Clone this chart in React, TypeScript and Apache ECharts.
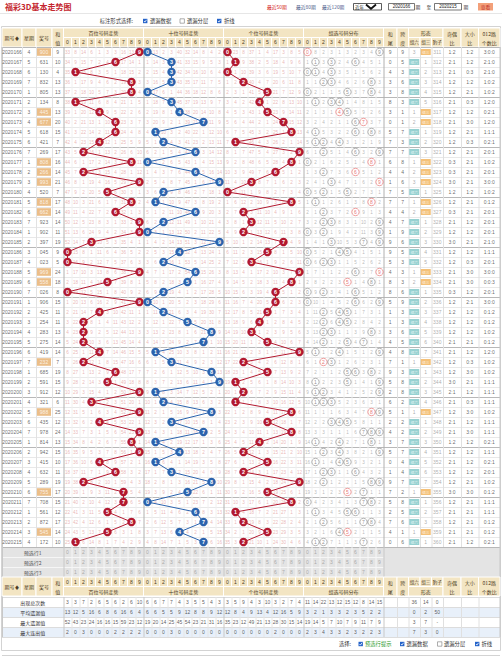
import React, { useEffect, useRef } from "react";
import * as echarts from "echarts";

const periods = ["2020166","2020167","2020168","2020169","2020170","2020171","2020172","2020173","2020174","2020175","2020176","2020177","2020178","2020179","2020180","2020181","2020182","2020183","2020184","2020185","2020186","2020187","2020188","2020189","2020190","2020191","2020192","2020193","2020194","2020195","2020196","2020197","2020198","2020199","2020200","2020201","2020202","2020203","2020204","2020205","2020206","2020207","2020208","2020209","2020210","2020211","2020212","2020213","2020214","2020215"];
const weekdays = [4,5,6,7,1,2,3,4,5,6,7,1,2,3,4,5,6,7,1,2,3,4,5,6,7,1,2,3,4,5,6,7,1,2,3,4,5,6,7,1,2,3,4,5,6,7,1,2,3,4];
const draws = ["900","631","130","832","805","134","445","677","618","421","269","808","266","993","520","818","662","923","902","397","045","023","969","558","026","906","425","254","283","275","419","232","685","591","912","321","988","435","978","814","942","415","632","289","755","708","561","872","545","172"];

// miss values shown in the first row (2020166) for each digit 0-9
const missStartHundreds = [33, 8, 14, 6, 1, 3, 3, 16, 13, 0];
const missStartTens = [0, 13, 2, 3, 40, 32, 14, 8, 4, 2];
const missStartUnits = [0, 23, 8, 37, 1, 4, 17, 3, 8, 5];
const missStartGroup = [0, 8, 2, 3, 1, 3, 2, 3, 4, 0];
const shapeMissStart = [3, 0, 311];

const digitLabels = ["0","1","2","3","4","5","6","7","8","9"];
const groupTitles = ["百位号码走势","十位号码走势","个位号码走势","组选号码分布"];
const presetLabels = ["预选行1","预选行2","预选行3"];
const statLabels = ["出现总次数","平均遗漏值","最大遗漏值","最大连出值"];
const statHundreds = [[3,3,7,2,6,5,6,2,6,10],[13,12,5,16,6,8,6,16,6,4],[52,43,23,24,16,16,15,59,23,12],[2,0,3,0,0,0,2,2,2,2]];
const statTens = [[6,6,7,7,4,3,5,5,4,3],[6,6,5,5,9,12,8,8,9,12],[19,20,14,25,45,54,23,21,31,16],[0,0,0,3,0,0,0,0,0,0]];
const statUnits = [[3,5,9,4,3,10,3,2,7,4],[12,8,4,9,13,4,12,16,5,9],[35,23,12,49,21,13,28,30,15,14],[0,0,0,0,0,0,2,0,0,0]];
const statGroup = [[11,14,22,13,12,15,12,8,14,15],[3,2,1,3,3,2,3,5,2,2],[19,14,5,7,10,7,9,11,7,9],[2,3,4,3,3,2,3,2,2,3]];
const statShape = [["36","14","0"],["0","2","50"],["3","7","-"],["7","3","0"]];

const FONT = "'Liberation Sans','Noto Sans CJK SC','DejaVu Sans',sans-serif";
const CJK = "'Noto Sans CJK SC','Liberation Sans',sans-serif";
const W = 502;
const TOP = 47;
const RH = 10;
const GROUP_LEFT = [63.5, 143.5, 223.5, 303.5];
const CELL = 8;
const LC = { qh: [2, 22], xq: [22, 36], jh: [36, 52], hz: [52, 63.5] };
const RC = { hw: [383.5, 397], kd: [397, 408.5], z6: [408.5, 420], z3: [420, 431.5], bz: [431.5, 443], jo: [443, 461], dx: [461, 478.5], lu: [478.5, 500] };
const RED = "#b2182f";
const BLUE = "#2b63ad";
const HBG = "#f3e5c3";
const HTX = "#4b3a22";

const mid = (c: number[]) => (c[0] + c[1]) / 2;
const digitX = (g: number, d: number) => GROUP_LEFT[g] + (d + 0.5) * CELL;

function buildOption() {
  const rows = draws.map((s) => s.split("").map(Number));
  const N = rows.length;
  const isPair = rows.map((r) => new Set(r).size === 2);
  const yCats = [...periods, ...presetLabels, "h1", "h2", ...statLabels];
  const rowY = (k: number) => TOP + k * RH;

  const missOf = (hit: (r: number[], d: number) => boolean, start: number[]) => {
    const m: number[][] = [];
    rows.forEach((r, i) => {
      m.push(digitLabels.map((_, d) => (hit(r, d) ? -1 : i === 0 ? start[d] : m[i - 1][d] < 0 ? 1 : m[i - 1][d] + 1)));
    });
    return m;
  };
  const missH = missOf((r, d) => r[0] === d, missStartHundreds);
  const missT = missOf((r, d) => r[1] === d, missStartTens);
  const missU = missOf((r, d) => r[2] === d, missStartUnits);
  const missG = missOf((r, d) => r.includes(d), missStartGroup);

  // shape misses
  const shapeM: number[][] = [];
  rows.forEach((r, i) => {
    const hits = [!isPair[i], isPair[i], false];
    shapeM.push(hits.map((h, k) => (h ? -1 : i === 0 ? shapeMissStart[k] : shapeM[i - 1][k] < 0 ? 1 : shapeM[i - 1][k] + 1)));
  });

  // ---------- graphic (table frame) ----------
  const gfx: any[] = [];
  const rect = (x: number, y: number, w: number, h: number, fill: string, stroke = "none", lw = 1) =>
    gfx.push({ type: "rect", silent: true, shape: { x, y, width: w, height: h }, style: { fill, stroke, lineWidth: lw } });
  const line = (x1: number, y1: number, x2: number, y2: number, stroke: string, lw = 1) =>
    gfx.push({ type: "line", silent: true, shape: { x1, y1, x2, y2 }, style: { stroke, lineWidth: lw } });
  const text = (x: number, y: number, t: string, o: any = {}) =>
    gfx.push({
      type: "text", silent: true, x, y,
      style: {
        text: t, fill: o.fill || "#333", fontSize: o.size || 5, fontFamily: o.font || CJK,
        fontWeight: o.bold ? "bold" : "normal", align: o.align || "center", verticalAlign: "middle",
        textAlign: o.align || "center", textVerticalAlign: "middle", lineHeight: o.lh || undefined,
      },
    });
  const check = (x: number, y: number, on: boolean) => {
    if (on) {
      rect(x, y - 2.2, 4.4, 4.4, "#2563c9");
      gfx.push({ type: "polyline", silent: true, shape: { points: [[x + 1, y], [x + 1.9, y + 1.1], [x + 3.5, y - 1.2]] }, style: { stroke: "#fff", lineWidth: 0.8, fill: "none" } });
    } else rect(x, y - 2.2, 4.4, 4.4, "#fff", "#777", 0.6);
  };

  rect(1.5, 26.5, 499, 624, "#fff", "#d3d3d3");
  // title bar
  text(5, 6.5, "福彩3D基本走势图", { align: "left", size: 8, bold: true, fill: "#c4262e" });
  line(0, 13.5, W, 13.5, "#e6e6e6");
  text(267, 6.5, "最近50期", { align: "left", size: 4.8, fill: "#d42020" });
  text(296, 6.5, "最近80期", { align: "left", size: 4.8, fill: "#4a5a8a" });
  text(322, 6.5, "最近120期", { align: "left", size: 4.8, fill: "#4a5a8a" });
  rect(353.5, 3.5, 28, 6.5, "#fff", "#333", 0.8);
  text(355, 6.8, "近年", { align: "left", size: 4.5, fill: "#222" });
  gfx.push({ type: "polyline", silent: true, shape: { points: [[366, 4.5], [371, 8.8], [376, 4.5]] }, style: { stroke: "#111", lineWidth: 1.8, fill: "none" } });
  rect(388.5, 3.5, 26, 6.5, "#fff", "#555", 0.8);
  text(401.5, 6.8, "2020166", { size: 4.5, font: FONT, fill: "#222" });
  text(418, 6.8, "期", { size: 4.8, fill: "#333" });
  text(429, 6.8, "至", { size: 4.8, fill: "#333" });
  rect(434.5, 3.5, 27, 6.5, "#fff", "#555", 0.8);
  text(448, 6.8, "2020215", { size: 4.5, font: FONT, fill: "#222" });
  text(466, 6.8, "期", { size: 4.8, fill: "#333" });
  rect(478, 3, 15, 7.5, "#f3a07a");
  text(485.5, 6.8, "查看", { size: 4.8, fill: "#c0302a" });
  // option line
  text(133, 21, "标注形式选择:", { align: "right", size: 5.3, fill: "#333" });
  check(143, 21, true);
  text(150, 21, "遗漏数据", { align: "left", size: 5.3 });
  check(180, 21, false);
  text(187, 21, "遗漏分层", { align: "left", size: 5.3 });
  check(217, 21, true);
  text(224, 21, "折线", { align: "left", size: 5.3 });

  const headerBlock = (y0: number, rev: boolean) => {
    const tRow = rev ? y0 + 9.5 : y0;
    const dRow = rev ? y0 : y0 + 9.5;
    const cell = (c: number[], y: number, h: number) => rect(c[0], y, c[1] - c[0], h, HBG, "#fff", 1);
    ([[LC.qh, "期号♦"], [LC.xq, "星期"], [LC.jh, "奖号"]] as any[]).forEach(([c, t]) => {
      cell(c, y0, 19);
      text(mid(c), y0 + 9.5, t, { fill: HTX, size: 5 });
    });
    cell(LC.hz, y0, 19);
    text(mid(LC.hz), y0 + 9.8, "和\n值", { fill: HTX, size: 5, lh: 9 });
    GROUP_LEFT.forEach((gl, g) => {
      cell([gl, gl + 80], tRow, 9.5);
      text(gl + 40, tRow + 4.9, groupTitles[g], { fill: HTX, size: 5 });
      digitLabels.forEach((dl, d) => {
        cell([gl + d * CELL, gl + (d + 1) * CELL], dRow, 9.5);
        text(gl + (d + 0.5) * CELL, dRow + 4.9, dl, { fill: HTX, size: 5, font: FONT });
      });
    });
    cell(RC.hw, y0, 19); text(mid(RC.hw), y0 + 9.8, "和\n尾", { fill: HTX, size: 5, lh: 9 });
    cell(RC.kd, y0, 19); text(mid(RC.kd), y0 + 9.8, "跨\n度", { fill: HTX, size: 5, lh: 9 });
    cell([RC.z6[0], RC.bz[1]], tRow, 9.5); text(mid([RC.z6[0], RC.bz[1]]), tRow + 4.9, "形态", { fill: HTX, size: 5 });
    ([[RC.z6, "组六"], [RC.z3, "组三"], [RC.bz, "豹子"]] as any[]).forEach(([c, t]) => {
      cell(c, dRow, 9.5);
      text(mid(c), dRow + 4.9, t, { fill: HTX, size: 4.6 });
    });
    cell(RC.jo, y0, 19); text(mid(RC.jo), y0 + 9.8, "奇偶\n比", { fill: HTX, size: 5, lh: 9 });
    cell(RC.dx, y0, 19); text(mid(RC.dx), y0 + 9.8, "大小\n比", { fill: HTX, size: 5, lh: 9 });
    cell(RC.lu, y0, 19); text(mid(RC.lu), y0 + 9.8, "012路\n个数比", { fill: HTX, size: 5, lh: 9 });
  };
  headerBlock(28, false);

  // preset rows background
  rect(2, rowY(N), 498, 30, "#e4e4e4");
  // stats rows background
  const statTop = rowY(N + 5);
  statLabels.forEach((_, k) => rect(2, statTop + k * RH, 498, RH, k % 2 === 1 ? "#e8f0fa" : "#fff"));
  // horizontal lines
  for (let k = 0; k <= N; k++) line(2, rowY(k) + 0.5, 500, rowY(k) + 0.5, k % 5 === 0 ? "#b8b8b8" : "#e8e8e8");
  for (let k = 1; k < 3; k++) line(2, rowY(N + k) + 0.5, 383.5, rowY(N + k) + 0.5, "#f6f6f6");
  for (let k = 0; k <= 4; k++) line(2, statTop + k * RH + 0.5, 500, statTop + k * RH + 0.5, "#dcdcdc");
  // vertical lines
  const vert = (x: number, y1: number, y2: number, c: string) => line(x, y1, x, y2, c);
  const yDataEnd = rowY(N);
  [LC.qh[1], LC.xq[1], LC.jh[1]].forEach((x) => vert(x + 0.5, TOP, yDataEnd, "#e2e2e2"));
  GROUP_LEFT.forEach((gl) => {
    for (let d = 1; d < 10; d++) {
      vert(gl + d * CELL + 0.5, TOP, yDataEnd, "#f0f0f0");
      vert(gl + d * CELL + 0.5, rowY(N), rowY(N + 3), "#f7f7f7");
      vert(gl + d * CELL + 0.5, statTop, statTop + 40, "#e6e6e6");
    }
  });
  [LC.hz[1], ...GROUP_LEFT.slice(1), 383.5].forEach((x) => {
    vert(x + 0.5, TOP, yDataEnd, "#b0b0b0");
    vert(x + 0.5, rowY(N), rowY(N + 3), "#c8c8c8");
    vert(x + 0.5, statTop, statTop + 40, "#c8c8c8");
  });
  [RC.hw[1], RC.kd[1], RC.z6[1], RC.z3[1], RC.bz[1], RC.jo[1], RC.dx[1]].forEach((x) => {
    vert(x + 0.5, TOP, yDataEnd, "#e0e0e0");
    vert(x + 0.5, statTop, statTop + 40, "#e0e0e0");
  });
  vert(2.5, TOP, statTop + 40, "#c8c8c8");
  vert(500, TOP, statTop + 40, "#c8c8c8");

  presetLabels.forEach((t, k) => text(mid([2, 63.5]), rowY(N + k) + 5, t, { size: 5, fill: "#555" }));
  headerBlock(rowY(N + 3), true);
  statLabels.forEach((t, k) => text(mid([2, 63.5]), statTop + k * RH + 5, t, { size: 5, fill: "#333" }));

  // bottom option line
  line(2, 650.5, 500, 650.5, "#d3d3d3");
  line(2, 655.5, 500, 655.5, "#d3d3d3");
  text(351, 644, "选择:", { align: "right", size: 5.3 });
  check(358.5, 644, true);
  text(365, 644, "预选行提示", { align: "left", size: 5.3, fill: "#2a9a2a" });
  check(400, 644, true);
  text(406.5, 644, "遗漏数据", { align: "left", size: 5.3 });
  check(437.5, 644, false);
  text(444, 644, "遗漏分层", { align: "left", size: 5.3 });
  check(475, 644, true);
  text(481.5, 644, "折线", { align: "left", size: 5.3 });

  // ---------- series ----------
  const txtSeries = (id: string, items: any[], color: string, size: number, z = 4, extra: any = {}) => ({
    type: "scatter", id, silent: true, z, symbolSize: 1, progressive: 0,
    itemStyle: { color: "rgba(0,0,0,0)" },
    data: items,
    label: { show: true, position: "inside", formatter: (p: any) => p.data.name, color, fontSize: size, fontFamily: FONT, ...extra },
  });
  const it = (x: number, row: number, name: string, label?: any) => (label ? { value: [x, row], name, label } : { value: [x, row], name });

  const series: any[] = [];

  // 奖号 highlight boxes for 组三
  series.push({
    type: "scatter", id: "pairBox", silent: true, z: 3, symbol: "rect", symbolSize: [14, 7.6],
    itemStyle: { color: "#e6ae6a" },
    data: rows.map((_, i) => (isPair[i] ? { value: [mid(LC.jh), i] } : null)).filter(Boolean),
  });
  const info: any[] = [];
  rows.forEach((r, i) => {
    info.push(it(mid(LC.qh), i, periods[i]));
    info.push(it(mid(LC.xq), i, String(weekdays[i])));
    info.push(it(mid(LC.jh), i, draws[i], isPair[i] ? { color: "#fff" } : undefined));
    info.push(it(mid(LC.hz), i, String(r[0] + r[1] + r[2])));
  });
  series.push(txtSeries("info", info, "#444", 5));

  // miss numbers
  [missH, missT, missU].forEach((m, g) => {
    const items: any[] = [];
    m.forEach((rowM, i) => rowM.forEach((v, d) => { if (v >= 0) items.push(it(digitX(g, d), i, String(v))); }));
    series.push(txtSeries("miss" + g, items, "#e4a6a6", 4.6, 3));
  });
  const gItems: any[] = [];
  missG.forEach((rowM, i) => rowM.forEach((v, d) => { if (v >= 0) gItems.push(it(digitX(3, d), i, String(v))); }));
  series.push(txtSeries("missG", gItems, "#a8a8a8", 4.6, 3));

  // 组选 circles
  const gHits: any[] = [];
  rows.forEach((r, i) => {
    digitLabels.forEach((dl, d) => {
      const c = r.filter((x) => x === d).length;
      if (c > 0) {
        const col = c > 1 ? "#e05050" : "#777";
        gHits.push({ value: [digitX(3, d), i], name: dl, itemStyle: { borderColor: col }, label: { color: col } });
      }
    });
  });
  series.push({
    type: "scatter", id: "gHits", silent: true, z: 4, symbol: "circle", symbolSize: 7.4, progressive: 0,
    itemStyle: { color: "#fff", borderColor: "#777", borderWidth: 0.7 },
    label: { show: true, position: "inside", formatter: (p: any) => p.data.name, fontSize: 5, fontFamily: FONT, color: "#666" },
    data: gHits,
  });

  // trend lines
  [RED, BLUE, RED].forEach((color, g) => {
    series.push({
      type: "line", id: "trend" + g, silent: true, z: 6, showAllSymbol: true,
      symbol: "circle", symbolSize: 8.4,
      data: rows.map((r, i) => ({ value: [digitX(g, r[g]), i], name: String(r[g]) })),
      lineStyle: { color, width: 1 },
      itemStyle: { color, borderWidth: 0 },
      label: { show: true, position: "inside", formatter: (p: any) => p.data.name, color: "#fff", fontSize: 5.4, fontWeight: "bold", fontFamily: FONT },
    });
  });

  // right columns
  const right: any[] = [];
  const shapeBoxes: any[] = [];
  rows.forEach((r, i) => {
    const s = r[0] + r[1] + r[2];
    const odd = r.filter((x) => x % 2 === 1).length;
    const big = r.filter((x) => x >= 5).length;
    const c0 = r.filter((x) => x % 3 === 0).length;
    const c1 = r.filter((x) => x % 3 === 1).length;
    right.push(it(mid(RC.hw), i, String(s % 10)));
    right.push(it(mid(RC.kd), i, String(Math.max(...r) - Math.min(...r))));
    right.push(it(mid(RC.jo), i, `${odd}:${3 - odd}`));
    right.push(it(mid(RC.dx), i, `${big}:${3 - big}`));
    right.push(it(mid(RC.lu), i, `${c0}:${c1}:${3 - c0 - c1}`));
    const sm = shapeM[i];
    [RC.z6, RC.z3, RC.bz].forEach((c, k) => {
      if (sm[k] >= 0) right.push(it(mid(c), i, String(sm[k]), { color: "#999" }));
      else shapeBoxes.push({ value: [mid(c), i], name: k === 0 ? "组六" : "组三", itemStyle: { color: k === 0 ? "#7cc6c6" : "#f1b257" } });
    });
  });
  series.push(txtSeries("right", right, "#444", 5));
  series.push({
    type: "scatter", id: "shapeBox", silent: true, z: 4, symbol: "rect", symbolSize: [10, 6], progressive: 0,
    itemStyle: { color: "#7cc6c6" },
    label: { show: true, position: "inside", formatter: (p: any) => p.data.name, fontSize: 3.8, fontFamily: CJK, color: "#fff" },
    data: shapeBoxes,
  });

  // preset rows digits
  const preset: any[] = [];
  presetLabels.forEach((_, k) => {
    for (let g = 0; g < 4; g++) digitLabels.forEach((dl, d) => preset.push(it(digitX(g, d), N + k, dl)));
  });
  series.push(txtSeries("preset", preset, "#9a9a9a", 5));

  // stats rows
  const stats: any[] = [];
  statLabels.forEach((_, k) => {
    const row = N + 5 + k;
    [statHundreds, statTens, statUnits, statGroup].forEach((arr, g) => {
      arr[k].forEach((v, d) => stats.push(it(digitX(g, d), row, String(v))));
    });
    [RC.z6, RC.z3, RC.bz].forEach((c, j) => stats.push(it(mid(c), row, statShape[k][j])));
  });
  series.push(txtSeries("stats", stats, "#333", 5));

  return {
    animation: false,
    backgroundColor: "#fff",
    textStyle: { fontFamily: FONT },
    grid: { left: 0, top: TOP, width: W, height: yCats.length * RH, containLabel: false },
    xAxis: { type: "value", min: 0, max: W, show: false },
    yAxis: { type: "category", data: yCats, inverse: true, show: false, boundaryGap: true },
    graphic: { elements: gfx },
    series,
  };
}

export default function App() {
  const ref = useRef<HTMLDivElement | null>(null);
  useEffect(() => {
    if (!ref.current) return;
    const chart = echarts.init(ref.current, undefined, { renderer: "svg", width: 502, height: 660 });
    chart.setOption(buildOption() as any);
    return () => chart.dispose();
  }, []);
  return <div ref={ref} style={{ position: "absolute", left: 0, top: 0, width: 502, height: 660, background: "#fff" }} />;
}
